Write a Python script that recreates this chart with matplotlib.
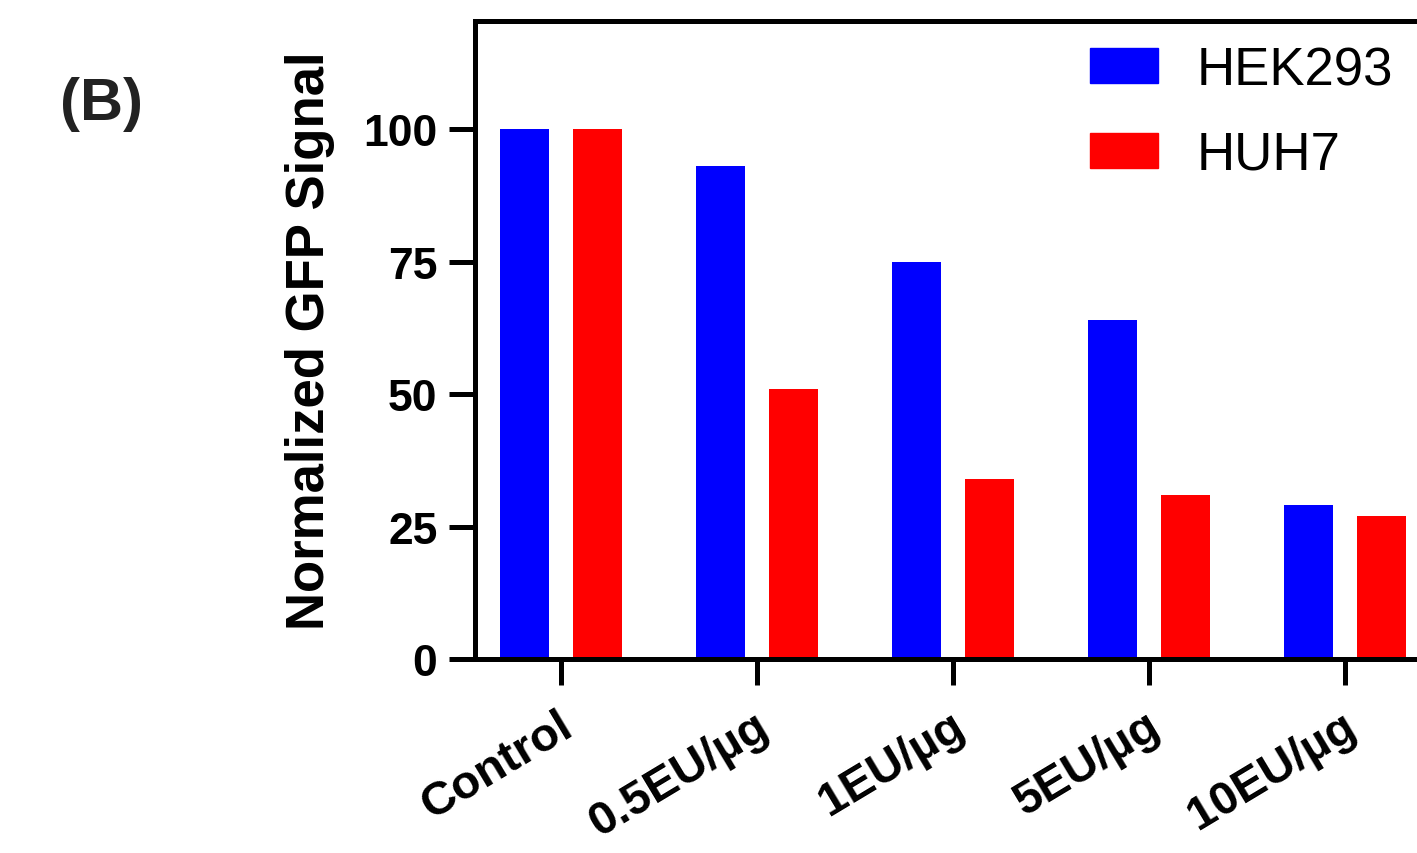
import matplotlib.pyplot as plt
import numpy as np
from matplotlib.patches import Patch
from matplotlib.transforms import ScaledTranslation

plt.rcParams["font.family"] = ["Liberation Sans", "DejaVu Sans"]

categories = ["Control", "0.5EU/µg", "1EU/µg", "5EU/µg", "10EU/µg"]
hek293 = [100, 93, 75, 64, 29]
huh7 = [100, 51, 34, 31, 27]
y_ticks = [0, 25, 50, 75, 100]

fig = plt.figure(figsize=(14.17, 8.54), dpi=100)
ax = fig.add_axes([475 / 1417, 1 - 660 / 854, 1 - 475 / 1417, (660 - 22) / 854])

x = np.arange(len(categories))
width = 0.25
offset = 0.186
ax.bar(x - offset, hek293, width, color="#0000FF", label="HEK293")
ax.bar(x + offset, huh7, width, color="#FF0000", label="HUH7")

ax.set_xlim(-0.44, 4.367)
ax.set_ylim(0, 120.4)
ax.set_yticks(y_ticks)
ax.set_yticklabels([str(v) for v in y_ticks], fontsize=32, fontweight="bold")
ax.set_xticks(x)
ax.set_xticklabels(categories, fontsize=34, fontweight="bold", rotation=31,
                   ha="right", va="top", rotation_mode="anchor")
ax.tick_params(axis="both", direction="out", length=19, width=3.6, pad=8)
ax.tick_params(axis="x", pad=13)

# small nudge so the rotated labels end just right of their tick
shift = ScaledTranslation(-4 / 100, 0, fig.dpi_scale_trans)
for lab in ax.get_xticklabels():
    lab.set_transform(lab.get_transform() + shift)

for side in ["left", "bottom", "top"]:
    ax.spines[side].set_linewidth(3.6)
ax.spines["right"].set_visible(False)

ax.set_ylabel("Normalized GFP Signal", fontsize=38, fontweight="bold", labelpad=20)

handles = [Patch(color="#0000FF", label="HEK293"), Patch(color="#FF0000", label="HUH7")]
fig.legend(handles=handles, loc="upper left", bbox_to_anchor=(1090 / 1417, 1 - 46 / 854),
           frameon=False, fontsize=38, handlelength=1.28, handleheight=0.64,
           handletextpad=0.74, labelspacing=0.66, borderpad=0, borderaxespad=0)

fig.text(60 / 1417, 1 - 105 / 854, "(B)", fontsize=43, fontweight="bold",
         color="#222222", va="center", ha="left")

fig.savefig("out.png", dpi=100)
